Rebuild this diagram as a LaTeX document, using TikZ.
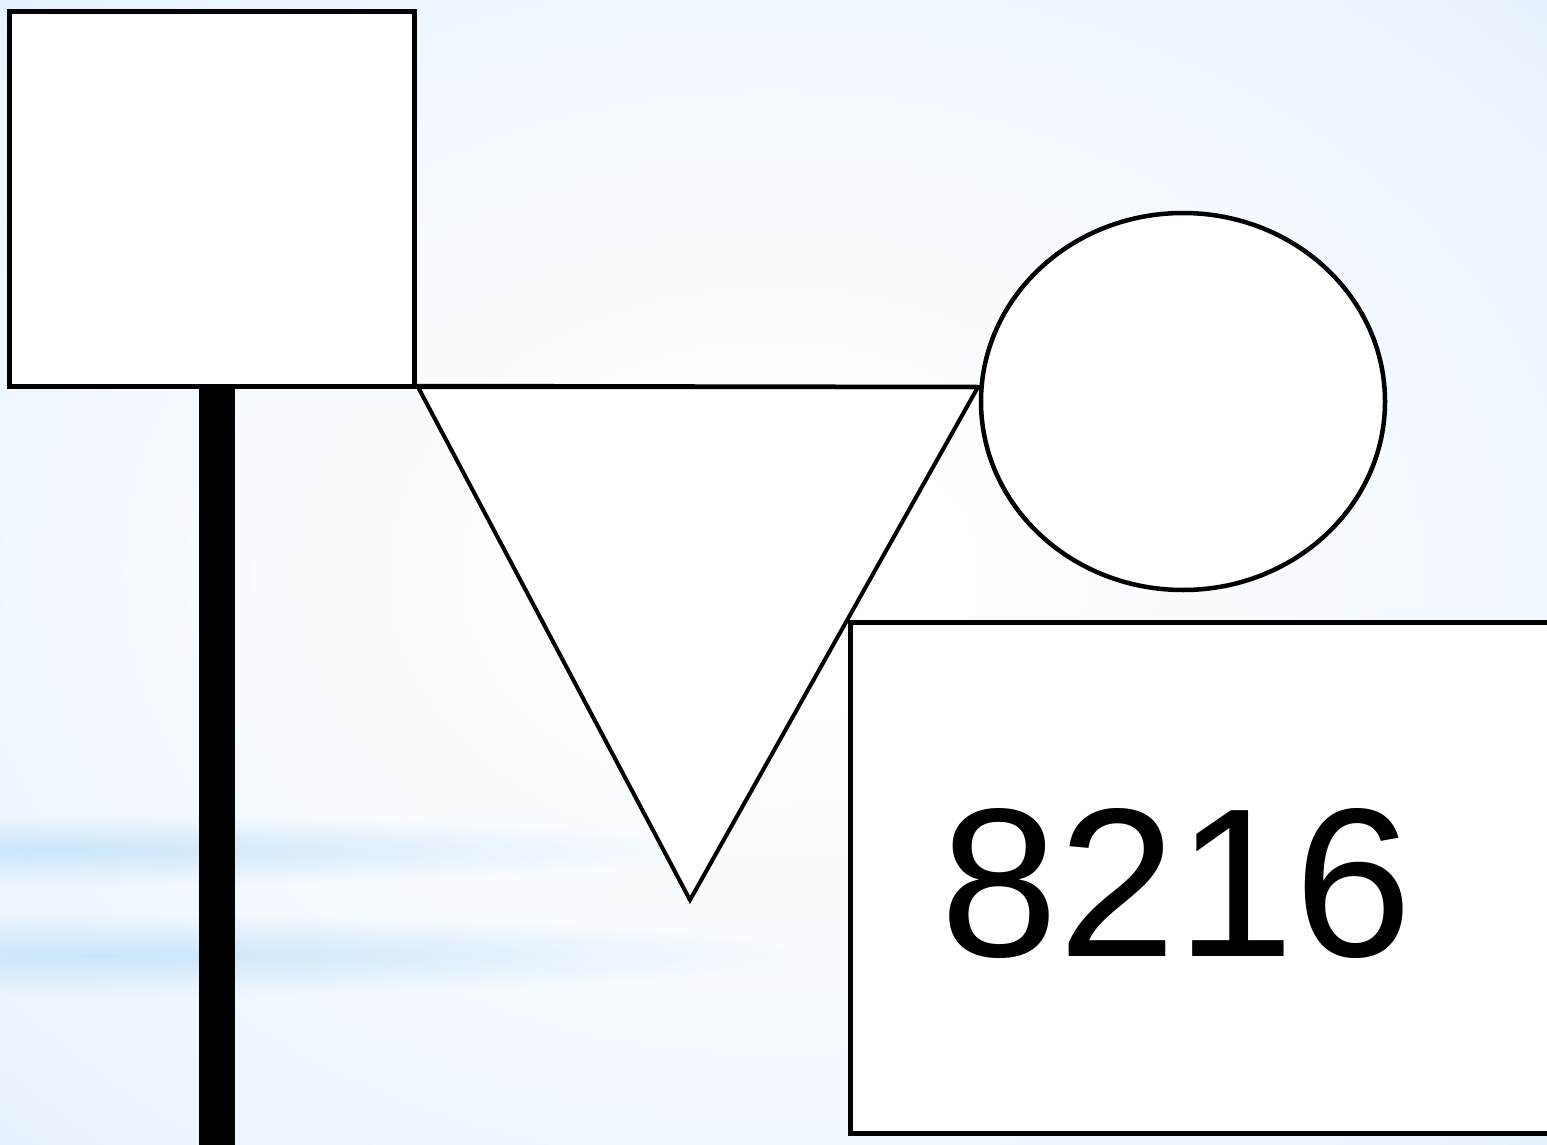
\documentclass[tikz,border=0pt]{standalone}
\usepackage{fontspec}
\setmainfont{Liberation Sans}
\usepackage{tikz}
\usetikzlibrary{calc,positioning,shapes.geometric,fadings}
\definecolor{bgblue}{RGB}{194,226,250}
\definecolor{bgdeep}{RGB}{190,224,250}
\definecolor{bgmid}{RGB}{232,243,253}
\definecolor{bgpale}{RGB}{247,251,255}
\pgfdeclareradialshading{bgshade}{\pgfpointorigin}{color(0bp)=(white); color(18bp)=(bgpale); color(34bp)=(bgmid); color(50bp)=(bgdeep); color(71bp)=(bgdeep)}
\tikzfading[name=bandfade, inner color=transparent!0, outer color=transparent!100]
\tikzset{
  pshape/.style={draw=black, line width=5pt, fill=white, inner sep=0pt, outer sep=0pt},
  pline/.style={draw=black, line width=4.5pt},
  pbar/.style={draw=black, line width=36pt},
  pband/.style={fill=bgblue, path fading=bandfade, fill opacity=0.8},
  pnum/.style={font=\fontsize{212}{250}\selectfont, inner sep=0pt, anchor=base}
}

\begin{document}
\begin{tikzpicture}[x=1pt,y=-1pt]

  \useasboundingbox (0,0) rectangle (1547,1145);
  \clip (0,0) rectangle (1547,1145);
  \shade[shading=bgshade] (0,0) rectangle (1547,1145);
  % streaks on the left
  \fill[pband] (-600,815) rectangle (700,885);
  \fill[pband] (-600,915) rectangle (800,995);

  % --- square and its bar ---
  \node[pshape, rectangle, minimum width=405pt, minimum height=374pt] (sq) at (212,199) {};
  \coordinate (barend) at (217,1160);
  \draw[pbar] (217,384) coordinate (bartop) -- (barend);

  % --- triangle under the line ---
  \coordinate (tl) at (418,387);
  \coordinate (tr) at (978,387);
  \coordinate (tb) at (690,900);
  \draw[pline, line width=4pt, fill=white, line join=miter] (tl) -- (tr) -- (tb) -- cycle;
  \draw[pline] (sq.south east) -- (tr);

  % --- circle ---
  \node[pshape, ellipse, line width=4.5pt, minimum width=404pt, minimum height=377pt] (ov) at (1183,401.5) {};

  % --- number box ---
  \node[pshape, rectangle, minimum width=720pt, minimum height=511pt] (box) at (1210,877.5) {};
  \node[pnum] (num) at (1176.5,956) {8216};

\end{tikzpicture}
\end{document}
